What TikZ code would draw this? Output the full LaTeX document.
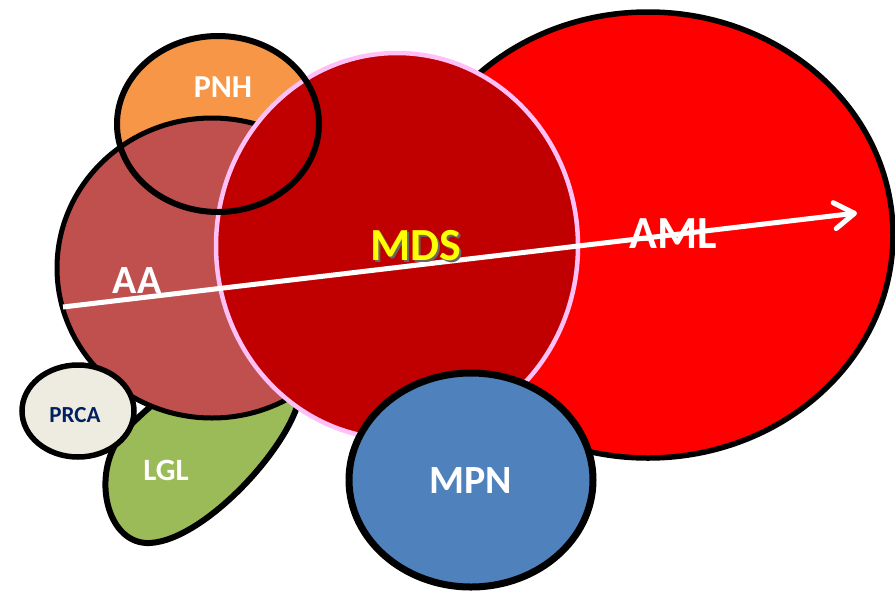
\documentclass[tikz,border=0pt]{standalone}
\usepackage{fontspec}
\setmainfont{Carlito}
\usetikzlibrary{shapes.geometric,arrows.meta}
\definecolor{amlred}{HTML}{FF0000}
\definecolor{mdsred}{HTML}{C00000}
\definecolor{mdspink}{HTML}{FFC0F8}
\definecolor{aared}{HTML}{C0504D}
\definecolor{pnhorange}{HTML}{F79646}
\definecolor{lglgreen}{HTML}{9BBB59}
\definecolor{mpnblue}{HTML}{4F81BD}
\definecolor{prcafill}{HTML}{EEECE1}
\definecolor{prcatext}{HTML}{002060}
\definecolor{mdsyellow}{HTML}{FFFF00}
\tikzset{
  blob/.style={ellipse, inner sep=0pt, draw=black, line width=5.5pt},
  lbl/.style={inner sep=0pt, text=white, font=\bfseries},
  fsz/.style={font=\bfseries\fontsize{#1}{#1}\selectfont},
}
\begin{document}
\begin{tikzpicture}[x=1pt,y=-1pt]
\useasboundingbox (0,0) rectangle (895,590);
% PNH fill (behind AA and MDS)
\node[ellipse, inner sep=0pt, fill=pnhorange, minimum width=202pt, minimum height=176pt] (pnhfill) at (218,124) {};
% LGL blob
\draw[fill=lglgreen, line width=6pt] (300,395) .. controls (292,445) and (205,540) .. (150,543)
  .. controls (108,545) and (92,480) .. (118,440)
  .. controls (131,420) and (200,358) .. (250,354)
  .. controls (290,352) and (302,372) .. (300,395) -- cycle;
% AML
\node[blob, fill=amlred, minimum width=490pt, minimum height=446pt] (aml) at (648,235) {};
% AA
\node[blob, fill=aared, line width=5pt, minimum width=310pt, minimum height=300pt] (aa) at (212,268) {};
% MDS
\node[ellipse, inner sep=0pt, fill=mdsred, draw=mdspink, line width=4.5pt, minimum width=362pt, minimum height=386pt] (mds) at (397,246) {};
% PNH outline
\node[blob, line width=6pt, minimum width=202pt, minimum height=176pt] (pnh) at (218,124) {};
% PRCA
\node[blob, fill=prcafill, minimum width=112pt, minimum height=92pt] (prca) at (78,411) {};
% MPN
\node[blob, fill=mpnblue, line width=7pt, minimum width=244pt, minimum height=214pt] (mpn) at (471,480) {};
% arrow
\coordinate (arrowstart) at (63,307);
\coordinate (arrowend) at (857,213);
\draw[white, line width=5pt, -{Straight Barb[round, length=20pt, width=26pt]}] (arrowstart) -- (arrowend);
% labels
\node[lbl, fsz=32] (pnhlabel) at (223,87) {PNH};
\node[lbl, fsz=40] (aalabel) at (137,281) {AA};
\node[inner sep=0pt, text=black!60, fsz=46] (mdsshadow) at (417.5,247.5) {MDS};
\node[inner sep=0pt, text=mdsyellow, fsz=46] (mdslabel) at (416,246) {MDS};
\node[lbl, fsz=46] (amllabel) at (673,234) {AML};
\node[inner sep=0pt, text=prcatext, fsz=23] (prcalabel) at (75,415) {PRCA};
\node[lbl, fsz=31] (lgllabel) at (166,470) {LGL};
\node[lbl, fsz=40] (mpnlabel) at (471,481) {MPN};
\end{tikzpicture}
\end{document}
